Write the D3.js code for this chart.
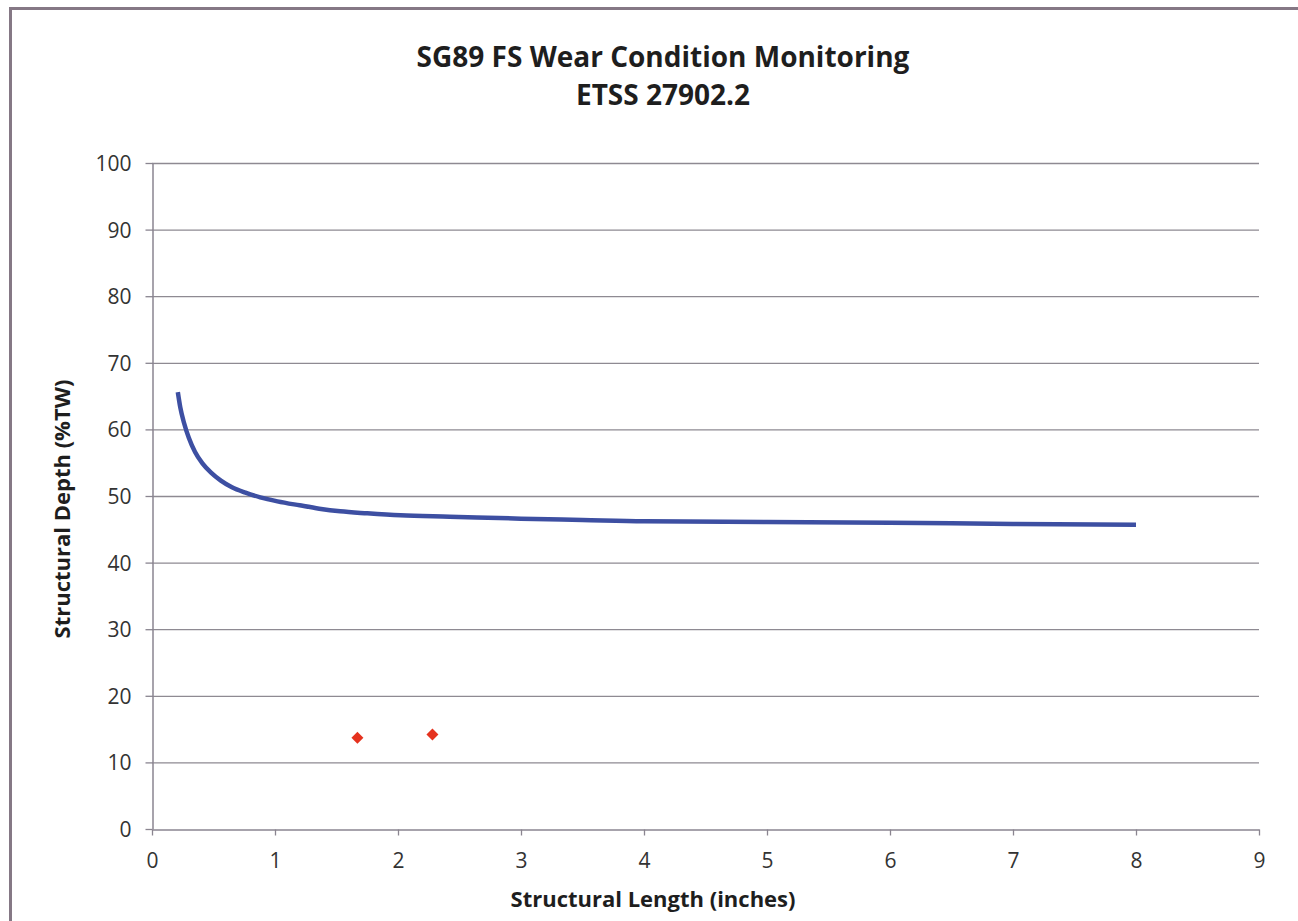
<!DOCTYPE html>
<html>
<head>
<meta charset="utf-8">
<script src="https://cdn.jsdelivr.net/npm/d3@7"></script>
<style>
  html, body { margin: 0; padding: 0; background: #fff; }
  svg { display: block; }
  text { font-family: "Open Sans", "Noto Sans", sans-serif; }
</style>
</head>
<body>
<svg id="chart" width="1298" height="921"></svg>
<script>
const titleLines = ["SG89 FS Wear Condition Monitoring", "ETSS 27902.2"];
const xLabel = "Structural Length (inches)";
const yLabel = "Structural Depth (%TW)";
const xTicks = [0, 1, 2, 3, 4, 5, 6, 7, 8, 9];
const yTicks = [0, 10, 20, 30, 40, 50, 60, 70, 80, 90, 100];

// Limit curve (length, depth)
const curveX = [0.21, 0.23, 0.26, 0.30, 0.35, 0.41, 0.48, 0.56, 0.65, 0.76, 0.88, 1.02, 1.20, 1.36, 1.53, 1.75, 2.02, 2.42, 3.0, 3.5, 4.0, 5.0, 6.0, 7.0, 8.0];
const curveY = [65.6, 63.3, 61.0, 58.7, 56.6, 54.9, 53.5, 52.3, 51.3, 50.5, 49.8, 49.2, 48.6, 48.1, 47.7, 47.4, 47.1, 46.9, 46.6, 46.4, 46.2, 46.1, 46.0, 45.8, 45.7];

// Measured indications
const pointX = [1.67, 2.28];
const pointY = [13.7, 14.2];

const svg = d3.select("#chart");
const W = 1298, H = 921;
const m = { left: 152, right: 1259, top: 163, bottom: 829 };

// outer frame
svg.append("rect").attr("x", 10.5).attr("y", 8.5).attr("width", W + 10).attr("height", H + 10)
  .attr("fill", "#fff").attr("stroke", "#857885").attr("stroke-width", 3);

const x = d3.scaleLinear().domain([0, 9]).range([m.left, m.right]);
const y = d3.scaleLinear().domain([0, 100]).range([m.bottom, m.top]);

// gridlines
svg.append("g").selectAll("line").data(yTicks.filter(d => d > 0)).join("line")
  .attr("x1", m.left).attr("x2", m.right)
  .attr("y1", d => y(d) + 0.5).attr("y2", d => y(d) + 0.5)
  .attr("stroke", "#8e8a92").attr("stroke-width", 1.3);

// y axis
const yAxis = svg.append("g").attr("transform", `translate(${m.left + 0.5},0)`)
  .call(d3.axisLeft(y).tickValues(yTicks).tickSize(7).tickPadding(14).tickSizeOuter(0));
// x axis
const xAxis = svg.append("g").attr("transform", `translate(0,${m.bottom + 0.5})`)
  .call(d3.axisBottom(x).tickValues(xTicks).tickSize(6).tickPadding(17).tickSizeOuter(0));

[yAxis, xAxis].forEach(g => {
  g.select(".domain").attr("stroke", "#8a8590").attr("stroke-width", 1.5);
  g.selectAll(".tick line").attr("stroke", "#8a8590").attr("stroke-width", 1.3);
  g.selectAll(".tick text").attr("fill", "#333").style("font-size", "21px")
    .style("font-family", "'Open Sans', sans-serif");
});
yAxis.selectAll(".tick text").attr("dy", "0.36em");
xAxis.selectAll(".tick text").attr("dy", "0.75em");

// curve
const curve = curveX.map((v, i) => [v, curveY[i]]);
svg.append("path").datum(curve)
  .attr("fill", "none").attr("stroke", "#3d4fa2").attr("stroke-width", 4.5)
  .attr("stroke-linecap", "butt").attr("stroke-linejoin", "round")
  .attr("d", d3.line().x(d => x(d[0])).y(d => y(d[1])).curve(d3.curveMonotoneX));

// points
svg.append("g").selectAll("path").data(pointX.map((v, i) => [v, pointY[i]])).join("path")
  .attr("transform", d => `translate(${x(d[0])},${y(d[1])}) rotate(45)`)
  .attr("d", d3.symbol().type(d3.symbolSquare).size(72))
  .attr("fill", "#e5321e");

// title
const title = svg.append("text").attr("text-anchor", "middle")
  .style("font-weight", "bold").style("font-size", "28px").attr("fill", "#1e1e1e");
title.selectAll("tspan").data(titleLines).join("tspan")
  .attr("x", 663).attr("y", (d, i) => 67 + i * 38).text(d => d);

// axis labels
svg.append("text").attr("x", 653).attr("y", 907).attr("text-anchor", "middle")
  .style("font-weight", "bold").style("font-size", "22px").attr("fill", "#1e1e1e").text(xLabel);
svg.append("text").attr("transform", "translate(70,509) rotate(-90)").attr("text-anchor", "middle")
  .style("font-weight", "bold").style("font-size", "22px").attr("fill", "#1e1e1e").text(yLabel);
</script>
</body>
</html>
